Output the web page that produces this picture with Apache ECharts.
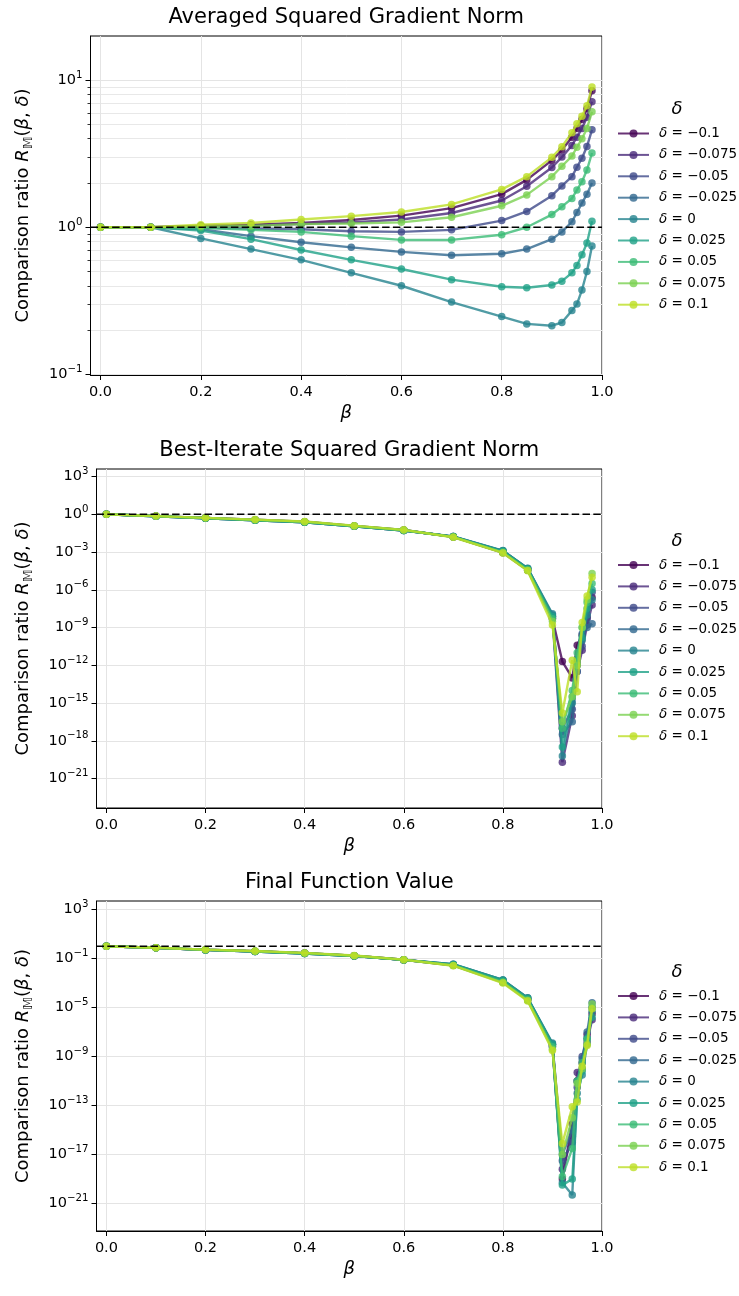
<!DOCTYPE html>
<html>
<head>
<meta charset="utf-8">
<script src="https://cdn.jsdelivr.net/npm/echarts@6/dist/echarts.min.js"></script>
<style>
  html, body { margin: 0; padding: 0; background: #ffffff; }
  #chart { width: 739px; height: 1296px; }
</style>
</head>
<body>
<div id="chart"></div>
<script>
// momentum parameter beta (x axis)
const betas = [0, 0.1, 0.2, 0.3, 0.4, 0.5, 0.6, 0.7, 0.8, 0.85, 0.9, 0.92, 0.94, 0.95, 0.96, 0.97, 0.98];

// delta values, one curve each
const deltaLabels = ['\u22120.1', '\u22120.075', '\u22120.05', '\u22120.025', '0', '0.025', '0.05', '0.075', '0.1'];

// viridis samples, one per delta
const deltaColors = ['#440154', '#482979', '#3e4a89', '#31688e', '#25838e', '#1fa187', '#3bbb75', '#7ad151', '#bddf26'];

// Averaged squared gradient norm ratio, rows follow deltaLabels
const avgSqGradNorm = [
  [1.00, 1.00, 1.02, 1.04, 1.07, 1.12, 1.20, 1.35, 1.68, 2.10, 2.85, 3.35, 4.10, 4.70, 5.40, 6.40, 8.50],
  [1.00, 1.00, 1.02, 1.03, 1.05, 1.08, 1.13, 1.25, 1.52, 1.90, 2.55, 3.00, 3.60, 4.10, 4.70, 5.60, 7.15],
  [1.00, 1.00, 0.99, 0.98, 0.97, 0.94, 0.93, 0.96, 1.11, 1.28, 1.64, 1.91, 2.21, 2.56, 2.95, 3.54, 4.60],
  [1.00, 1.00, 0.97, 0.87, 0.79, 0.73, 0.68, 0.645, 0.66, 0.71, 0.83, 0.93, 1.09, 1.26, 1.46, 1.68, 2.00],
  [1.00, 1.00, 0.84, 0.71, 0.60, 0.49, 0.40, 0.31, 0.247, 0.22, 0.214, 0.225, 0.271, 0.30, 0.374, 0.50, 0.746],
  [1.00, 1.00, 0.95, 0.83, 0.70, 0.60, 0.52, 0.44, 0.394, 0.388, 0.405, 0.43, 0.49, 0.55, 0.65, 0.78, 1.10],
  [1.00, 1.00, 0.99, 0.96, 0.93, 0.87, 0.82, 0.82, 0.89, 1.00, 1.22, 1.38, 1.57, 1.79, 2.04, 2.45, 3.20],
  [1.00, 1.00, 1.01, 1.02, 1.05, 1.06, 1.08, 1.17, 1.40, 1.66, 2.21, 2.60, 3.05, 3.50, 4.00, 4.70, 6.10],
  [1.00, 1.00, 1.04, 1.07, 1.13, 1.19, 1.27, 1.43, 1.81, 2.21, 2.99, 3.53, 4.40, 5.05, 5.70, 6.70, 9.00]
];

// Best-iterate squared gradient norm ratio
const bestIterSqGradNorm = [
  [1, 0.72, 0.52, 0.37, 0.26, 0.12, 0.056, 0.016, 9.0e-4, 3.6e-5, 5.0e-9, 2.0e-12, 1.0e-13, 4.0e-11, 2.5e-10, 6.3e-9, 2.5e-7],
  [1, 0.72, 0.51, 0.36, 0.25, 0.115, 0.054, 0.016, 9.5e-4, 3.8e-5, 6.3e-9, 2.0e-20, 1.0e-16, 3.2e-13, 1.6e-11, 1.6e-9, 6.3e-8],
  [1, 0.70, 0.48, 0.33, 0.23, 0.11, 0.052, 0.017, 1.2e-3, 4.8e-5, 7.9e-9, 1.0e-17, 3.2e-16, 1.0e-12, 3.2e-11, 5.0e-9, 6.3e-7],
  [1, 0.70, 0.48, 0.33, 0.23, 0.11, 0.052, 0.017, 1.26e-3, 5.0e-5, 1.0e-8, 3.2e-18, 3.2e-17, 3.2e-13, 3.2e-10, 1.0e-9, 2.0e-9],
  [1, 0.70, 0.48, 0.33, 0.23, 0.11, 0.052, 0.0175, 1.3e-3, 5.2e-5, 1.26e-8, 6.3e-20, 1.0e-15, 1.6e-12, 1.0e-10, 1.0e-8, 1.6e-7],
  [1, 0.70, 0.48, 0.33, 0.23, 0.11, 0.052, 0.017, 1.2e-3, 4.8e-5, 7.9e-9, 3.2e-19, 3.2e-15, 3.2e-12, 1.6e-10, 3.2e-8, 1.0e-6],
  [1, 0.71, 0.50, 0.35, 0.25, 0.115, 0.054, 0.016, 1.0e-3, 4.0e-5, 5.0e-9, 1.0e-17, 1.0e-14, 1.0e-11, 1.0e-9, 1.0e-7, 3.2e-6],
  [1, 0.72, 0.52, 0.37, 0.26, 0.12, 0.057, 0.0155, 8.9e-4, 3.5e-5, 3.2e-9, 3.2e-17, 3.2e-15, 1.0e-12, 1.0e-9, 1.6e-7, 2.0e-5],
  [1, 0.72, 0.52, 0.38, 0.27, 0.125, 0.058, 0.015, 8.5e-4, 3.2e-5, 1.6e-9, 1.6e-16, 2.5e-12, 7.9e-15, 2.5e-9, 3.2e-7, 1.0e-5]
];

// Final function value ratio
const finalFuncValue = [
  [1, 0.76, 0.53, 0.40, 0.28, 0.17, 0.080, 0.028, 1.2e-3, 4.2e-5, 6.3e-9, 1.0e-19, 3.2e-15, 1.0e-11, 3.2e-10, 6.3e-8, 3.2e-6],
  [1, 0.76, 0.53, 0.40, 0.28, 0.17, 0.080, 0.029, 1.3e-3, 4.5e-5, 7.9e-9, 6.3e-19, 3.2e-16, 5.0e-11, 1.0e-10, 1.6e-8, 1.0e-6],
  [1, 0.75, 0.51, 0.38, 0.26, 0.16, 0.078, 0.032, 1.6e-3, 5.5e-5, 1.0e-8, 3.2e-18, 1.0e-16, 3.2e-12, 1.0e-9, 3.2e-8, 1.0e-5],
  [1, 0.75, 0.51, 0.38, 0.26, 0.16, 0.078, 0.034, 1.8e-3, 6.0e-5, 1.0e-8, 1.0e-17, 1.0e-15, 1.0e-11, 6.3e-10, 1.0e-7, 2.5e-5],
  [1, 0.75, 0.51, 0.38, 0.26, 0.16, 0.078, 0.035, 1.8e-3, 6.3e-5, 1.26e-8, 5.0e-20, 5.0e-21, 1.0e-12, 3.2e-11, 1.0e-8, 5.0e-6],
  [1, 0.75, 0.51, 0.38, 0.26, 0.16, 0.078, 0.033, 1.7e-3, 5.8e-5, 1.0e-8, 3.2e-20, 1.0e-19, 3.2e-13, 6.3e-11, 3.2e-8, 1.6e-6],
  [1, 0.76, 0.52, 0.39, 0.27, 0.17, 0.079, 0.029, 1.3e-3, 4.5e-5, 6.3e-9, 1.6e-19, 3.2e-17, 1.0e-11, 3.2e-10, 2.5e-8, 1.0e-5],
  [1, 0.76, 0.53, 0.40, 0.28, 0.17, 0.080, 0.027, 1.1e-3, 3.8e-5, 4.0e-9, 1.0e-17, 1.0e-14, 6.3e-12, 1.0e-10, 1.0e-8, 2.0e-5],
  [1, 0.77, 0.54, 0.41, 0.29, 0.18, 0.082, 0.026, 1.0e-3, 3.5e-5, 3.2e-9, 7.9e-17, 7.9e-14, 2.0e-13, 1.6e-10, 7.9e-9, 7.9e-6]
];

const panelTitles = ['Averaged Squared Gradient Norm', 'Best-Iterate Squared Gradient Norm', 'Final Function Value'];
const panelData = [avgSqGradNorm, bestIterSqGradNorm, finalFuncValue];

// log10 decade ticks on each panel's y axis
const yMajorExp = [
  [-1, 0, 1],
  [-21, -18, -15, -12, -9, -6, -3, 0, 3],
  [-21, -17, -13, -9, -5, -1, 3]
];
// minor decade subdivisions (first panel only)
const yMinorExp = [];
[0.1, 1].forEach(function (base) {
  for (let m = 2; m <= 9; m++) yMinorExp.push(Math.log10(base * m));
});
const yLimitsExp = [[-1.005, 1.301], [-23.34, 3.6], [-23.24, 3.70]];
const xTicks = [0, 0.2, 0.4, 0.6, 0.8, 1.0];

const FONT = 'DejaVu Sans';
const grids = [
  { left: 90.5, top: 36, width: 511.5, height: 339 },
  { left: 96.5, top: 469, width: 505.5, height: 339 },
  { left: 96.5, top: 901, width: 505.5, height: 330 }
];
const legendTop = [125.5, 557, 988];
const legendTitleTop = [100, 532, 963];
const titleTop = [7, 440, 872];
const yNameGap = [55, 61, 61];

function expLabel(v) {
  const e = Math.round(v);
  const s = e < 0 ? '\u2212' + (-e) : String(e);
  return '{b|10}{s|' + s + '}';
}

const option = {
  animation: false,
  backgroundColor: '#ffffff',
  textStyle: { fontFamily: FONT },
  title: [],
  legend: [],
  grid: grids.map(function (g) {
    return Object.assign({
      show: true, borderColor: '#000', borderWidth: 1, backgroundColor: 'transparent',
      containLabel: false, outerBoundsMode: 'none'
    }, g);
  }),
  xAxis: [],
  yAxis: [],
  series: []
};

const seriesNames = deltaLabels.map(function (d) { return '\u03b4 = ' + d; });

for (let p = 0; p < 3; p++) {
  const cx = grids[p].left + grids[p].width / 2;
  option.title.push({
    text: panelTitles[p], left: cx, top: titleTop[p], textAlign: 'center', padding: 0,
    textStyle: { fontFamily: FONT, fontSize: 21, fontWeight: 'normal', color: '#000' }
  });
  option.title.push({
    text: '\u03b4', left: 677, top: legendTitleTop[p], textAlign: 'center', padding: 0,
    textStyle: { fontFamily: FONT, fontSize: 18, fontStyle: 'italic', fontWeight: 'normal', color: '#000' }
  });

  option.xAxis.push({
    gridIndex: p, type: 'value', min: -0.02, max: 1.0,
    name: '\u03b2', nameLocation: 'middle', nameGap: 29,
    nameTextStyle: { fontFamily: FONT, fontSize: 18, fontStyle: 'italic', color: '#000' },
    axisLine: { show: true, onZero: false, lineStyle: { color: '#000', width: 1 } },
    axisTick: { show: true, customValues: xTicks, length: 5, lineStyle: { color: '#000', width: 1 } },
    axisLabel: {
      customValues: xTicks, margin: 10, color: '#000', fontFamily: FONT, fontSize: 14.5,
      formatter: function (v) { return v.toFixed(1); }
    },
    splitLine: { show: true, lineStyle: { color: '#e4e4e4', width: 1 } }
  });

  const majorIdx = option.yAxis.length;
  option.yAxis.push({
    gridIndex: p, type: 'value', position: 'left',
    min: yLimitsExp[p][0], max: yLimitsExp[p][1],
    name: 'Comparison ratio {i|R}{sub|\ud835\udd44}({i|\u03b2}, {i|\u03b4})',
    nameLocation: 'middle', nameGap: yNameGap[p], nameRotate: 90,
    nameTextStyle: {
      fontFamily: FONT, fontSize: 18, color: '#000', lineHeight: 24,
      rich: {
        i: { fontFamily: FONT, fontSize: 18, fontStyle: 'italic', color: '#000', lineHeight: 24 },
        sub: { fontFamily: FONT, fontSize: 12.5, color: '#000', verticalAlign: 'bottom', lineHeight: 12 }
      }
    },
    axisLine: { show: true, onZero: false, lineStyle: { color: '#000', width: 1 } },
    axisTick: { show: true, customValues: yMajorExp[p], length: 5, lineStyle: { color: '#000', width: 1 } },
    axisLabel: {
      customValues: yMajorExp[p], margin: 8, color: '#000', fontFamily: FONT,
      formatter: expLabel,
      rich: {
        b: { fontFamily: FONT, fontSize: 14.5, color: '#000', lineHeight: 20 },
        s: { fontFamily: FONT, fontSize: 10.2, color: '#000', verticalAlign: 'top', lineHeight: 11 }
      }
    },
    splitLine: { show: true, lineStyle: { color: '#e4e4e4', width: 1 } }
  });

  if (p === 0) {
    option.yAxis.push({
      gridIndex: p, type: 'value', position: 'left',
      min: yLimitsExp[p][0], max: yLimitsExp[p][1],
      axisLine: { show: false, onZero: false },
      axisTick: { show: true, customValues: yMinorExp, length: 3, lineStyle: { color: '#000', width: 0.8 } },
      axisLabel: { show: false },
      splitLine: { show: true, lineStyle: { color: '#e8e8e8', width: 1 } }
    });
  }

  const rows = panelData[p];
  rows.forEach(function (row, i) {
    option.series.push({
      name: seriesNames[i], type: 'line', xAxisIndex: p, yAxisIndex: majorIdx,
      data: betas.map(function (b, k) { return [b, Math.log10(row[k])]; }),
      symbol: 'circle', symbolSize: 7.5, showSymbol: true,
      color: deltaColors[i],
      lineStyle: { width: 2.4, color: deltaColors[i], opacity: 0.8 },
      itemStyle: { color: deltaColors[i], opacity: 0.8 },
      z: 2 + i * 0.01,
      emphasis: { disabled: true },
      clip: true
    });
  });

  // reference ratio of one
  option.series.push({
    name: 'ratio one', type: 'line', xAxisIndex: p, yAxisIndex: majorIdx,
    data: [[-0.02, 0], [1.0, 0]], symbol: 'none', silent: true,
    lineStyle: { color: '#000', width: 1.5, type: [7.5, 3.3] },
    z: 5
  });

  option.legend.push({
    orient: 'vertical', left: 617, top: legendTop[p], padding: 0,
    data: seriesNames, itemWidth: 31, itemHeight: 10, itemGap: 5.4,
    selectedMode: false,
    formatter: function (name) { return '{i|\u03b4}' + name.slice(1); },
    textStyle: {
      fontFamily: FONT, fontSize: 13.5, color: '#000', lineHeight: 16, padding: [0, 0, 0, 5],
      rich: { i: { fontFamily: FONT, fontSize: 13.5, fontStyle: 'italic', color: '#000', lineHeight: 16 } }
    }
  });
}

const chart = echarts.init(document.getElementById('chart'), null, { renderer: 'canvas' });
chart.setOption(option);
</script>
</body>
</html>
